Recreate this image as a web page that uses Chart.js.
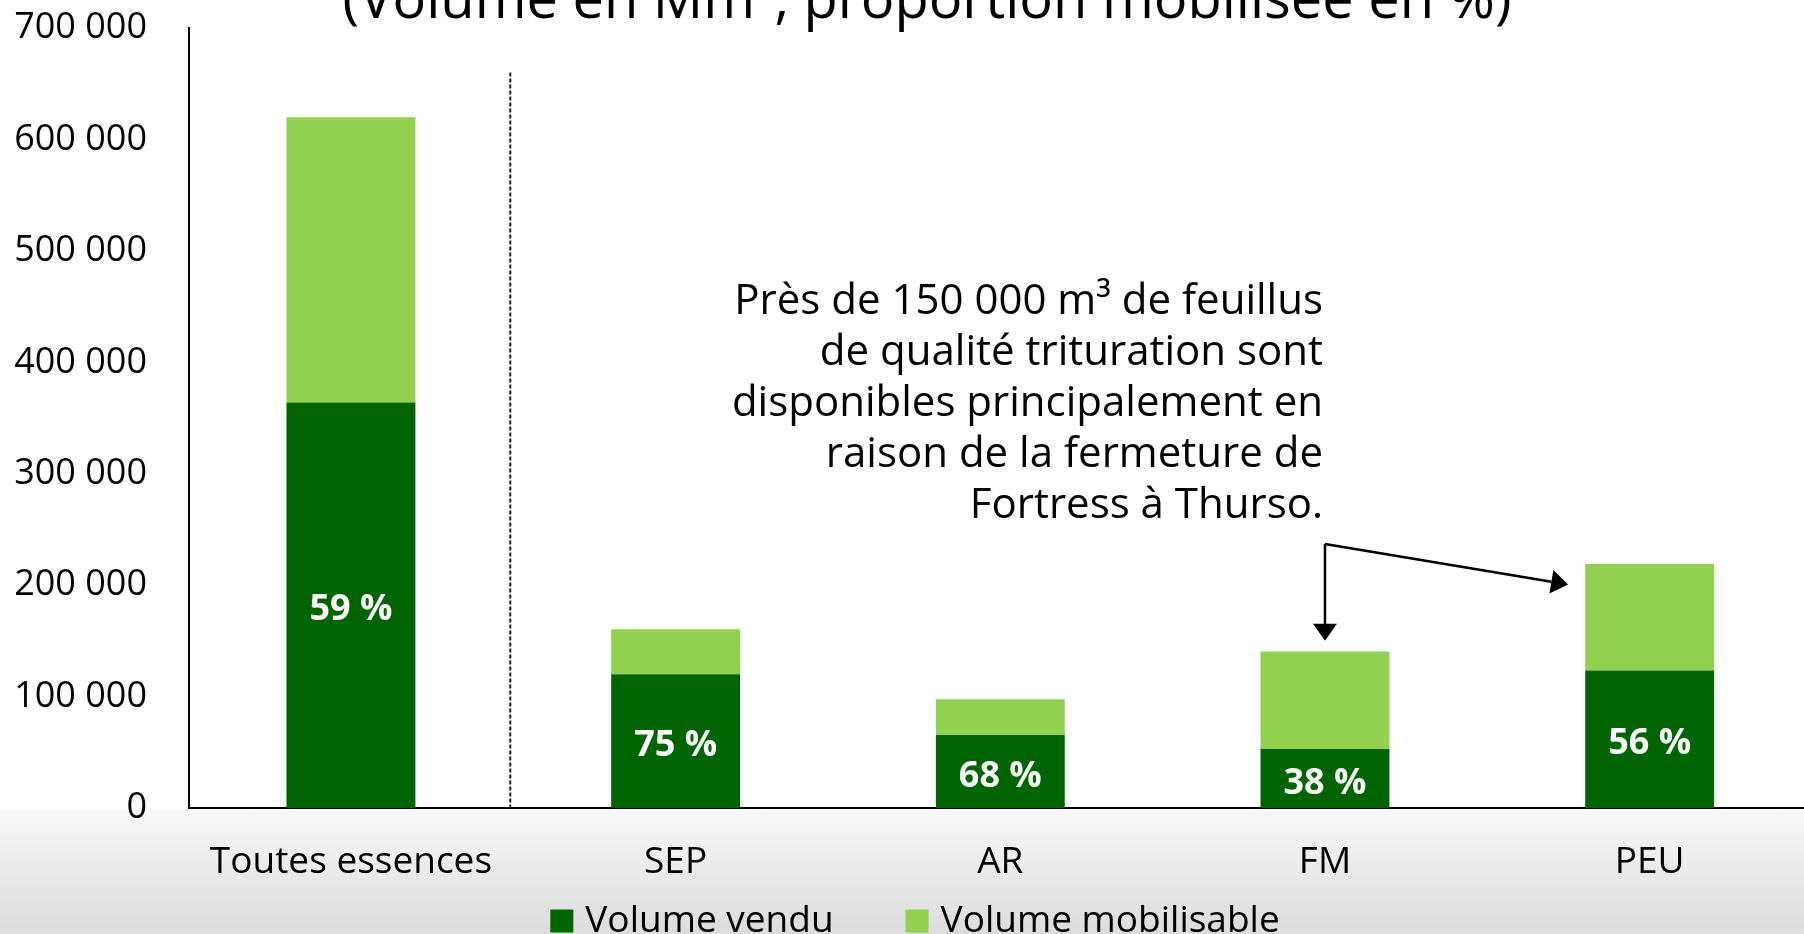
<!DOCTYPE html>
<html lang="fr">
<head>
<meta charset="utf-8">
<title>Volume vendu et mobilisable</title>
<script src="https://cdn.jsdelivr.net/npm/chart.js@4.4.1/dist/chart.umd.min.js"></script>
<style>
  html, body {
    margin: 0;
    padding: 0;
    width: 1804px;
    height: 934px;
    overflow: hidden;
    background: linear-gradient(to bottom, #ffffff 0, #ffffff 807px, #f8f8f8 811px, #dcdcdc 934px);
  }
  #wrap {
    position: absolute;
    left: 0;
    top: -36px;   /* canvas starts above the page: the slide title is cut */
    width: 1812px;
    height: 970px;
  }
</style>
</head>
<body>
<div id="wrap"><canvas id="chart" width="1812" height="970"></canvas></div>
<script>
/* ------------------------------------------------------------
   Data
   ------------------------------------------------------------ */
const categories = ["Toutes essences", "SEP", "AR", "FM", "PEU"];
const volumeVendu = [364000, 120000, 65500, 53000, 123500];
const volumeMobilisable = [256000, 40500, 32000, 87500, 95500];
const proportionLabels = ["59 %", "75 %", "68 %", "38 %", "56 %"];

const yMin = 0;
const yMax = 700000;
const yStep = 100000;

const titleText = "(Volume en Mm³, proportion mobilisée en %)";
const noteLines = [
    "Près de 150 000 m³ de feuillus",
    "de qualité trituration sont",
    "disponibles principalement en",
    "raison de la fermeture de",
    "Fortress à Thurso."
];

const SHIFT = 36;   // canvas y = page y + SHIFT
const DARK_GREEN = "#006400";
const LIGHT_GREEN = "#92D050";
const FONT = "'Open Sans', 'Noto Sans', sans-serif";

function formatThousands(v) {
    return String(v).replace(/\B(?=(\d{3})+(?!\d))/g, " ");
}

/* ------------------------------------------------------------
   Plugin: title (cut at the top, like the source slide)
   ------------------------------------------------------------ */
const titlePlugin = {
    id: "cutTitle",
    afterDraw(chart) {
        const { ctx } = chart;
        ctx.save();
        ctx.fillStyle = "#000";
        ctx.font = "56px " + FONT;
        ctx.textAlign = "center";
        ctx.textBaseline = "alphabetic";
        ctx.fillText(titleText, 927, 18 + SHIFT);
        ctx.restore();
    }
};

/* ------------------------------------------------------------
   Plugin: dashed separator after "Toutes essences"
   ------------------------------------------------------------ */
const separatorPlugin = {
    id: "separator",
    afterDatasetsDraw(chart) {
        const { ctx, scales: { x, y } } = chart;
        const px = (x.getPixelForValue(0) + x.getPixelForValue(1)) / 2 - 3;
        ctx.save();
        ctx.strokeStyle = "#222";
        ctx.lineWidth = 2;
        ctx.setLineDash([4, 2]);
        ctx.beginPath();
        ctx.moveTo(px, y.getPixelForValue(660000));
        ctx.lineTo(px, y.getPixelForValue(0));
        ctx.stroke();
        ctx.restore();
    }
};

/* ------------------------------------------------------------
   Plugin: percent labels inside the dark bars
   ------------------------------------------------------------ */
const percentPlugin = {
    id: "percentLabels",
    afterDatasetsDraw(chart) {
        const { ctx } = chart;
        const meta = chart.getDatasetMeta(0);
        ctx.save();
        ctx.fillStyle = "#ffffff";
        ctx.font = "bold 36px " + FONT;
        ctx.textAlign = "center";
        ctx.textBaseline = "middle";
        meta.data.forEach((bar, i) => {
            ctx.fillText(proportionLabels[i], bar.x, (bar.y + bar.base) / 2 + 5);
        });
        ctx.restore();
    }
};

/* ------------------------------------------------------------
   Plugin: note text + arrows
   ------------------------------------------------------------ */
function drawArrow(ctx, x1, y1, x2, y2) {
    const ang = Math.atan2(y2 - y1, x2 - x1);
    const len = 17, half = 12;
    const bx = x2 - len * Math.cos(ang);
    const by = y2 - len * Math.sin(ang);
    ctx.beginPath();
    ctx.moveTo(x1, y1);
    ctx.lineTo(bx, by);
    ctx.stroke();
    ctx.beginPath();
    ctx.moveTo(x2, y2);
    ctx.lineTo(bx + half * Math.sin(ang), by - half * Math.cos(ang));
    ctx.lineTo(bx - half * Math.sin(ang), by + half * Math.cos(ang));
    ctx.closePath();
    ctx.fill();
}

const notePlugin = {
    id: "note",
    afterDraw(chart) {
        const { ctx, scales: { x, y } } = chart;
        ctx.save();
        ctx.fillStyle = "#000";
        ctx.strokeStyle = "#000";
        ctx.font = "42px " + FONT;
        ctx.textAlign = "right";
        ctx.textBaseline = "middle";
        const right = x.getPixelForValue(3) - 2;
        const top = y.getPixelForValue(454000);
        noteLines.forEach((line, i) => ctx.fillText(line, right, top + i * 51));

        ctx.lineWidth = 2.5;
        const sx = x.getPixelForValue(3);
        const sy = y.getPixelForValue(237000);
        drawArrow(ctx, sx, sy, sx, y.getPixelForValue(150000));
        drawArrow(ctx, sx, sy, x.getPixelForValue(3.749), y.getPixelForValue(200500));
        ctx.restore();
    }
};

/* ------------------------------------------------------------
   Plugin: legend row under the axis labels
   ------------------------------------------------------------ */
const legendPlugin = {
    id: "legendRow",
    afterDraw(chart) {
        const { ctx } = chart;
        const items = chart.data.datasets.map(ds => ({ text: ds.label, color: ds.backgroundColor }));
        const box = 23, textGap = 12, itemGap = 72, cy = 921 + SHIFT;
        ctx.save();
        ctx.font = "37px " + FONT;
        ctx.textBaseline = "middle";
        ctx.textAlign = "left";
        const widths = items.map(it => box + textGap + ctx.measureText(it.text).width);
        const total = widths.reduce((a, b) => a + b, 0) + itemGap * (items.length - 1);
        let cx = 915 - total / 2;
        items.forEach((it, i) => {
            ctx.fillStyle = it.color;
            ctx.fillRect(cx, cy - box / 2, box, box);
            ctx.fillStyle = "#000";
            ctx.fillText(it.text, cx + box + textGap, cy);
            cx += widths[i] + itemGap;
        });
        ctx.restore();
    }
};

/* ------------------------------------------------------------
   Chart
   ------------------------------------------------------------ */
new Chart(document.getElementById("chart"), {
    type: "bar",
    data: {
        labels: categories,
        datasets: [
            {
                label: "Volume vendu",
                data: volumeVendu,
                backgroundColor: DARK_GREEN,
                barPercentage: 0.397,
                categoryPercentage: 1
            },
            {
                label: "Volume mobilisable",
                data: volumeMobilisable,
                backgroundColor: LIGHT_GREEN,
                barPercentage: 0.397,
                categoryPercentage: 1
            }
        ]
    },
    options: {
        responsive: false,
        animation: false,
        devicePixelRatio: 1,
        layout: { padding: { left: 0, right: 0, top: 28 + SHIFT, bottom: 55 } },
        plugins: {
            tooltip: { enabled: false },
            title: { display: false },
            legend: { display: false }
        },
        scales: {
            x: {
                stacked: true,
                grid: { display: false, drawTicks: false },
                border: { display: true, color: "#000", width: 2 },
                ticks: {
                    color: "#000",
                    font: { family: FONT, size: 37, lineHeight: 0.9 },
                    padding: 37.35,
                    maxRotation: 0,
                    autoSkip: false
                },
                afterFit(scale) { scale.height = 71; }
            },
            y: {
                stacked: true,
                min: yMin,
                max: yMax,
                grid: { display: false, drawTicks: false },
                border: { display: true, color: "#000", width: 2 },
                ticks: {
                    stepSize: yStep,
                    color: "#000",
                    font: { family: FONT, size: 36 },
                    padding: 41.6,
                    callback: v => formatThousands(v)
                },
                afterFit(scale) { scale.width = 188.6; }
            }
        }
    },
    plugins: [separatorPlugin, percentPlugin, notePlugin, titlePlugin, legendPlugin]
});
</script>
</body>
</html>
